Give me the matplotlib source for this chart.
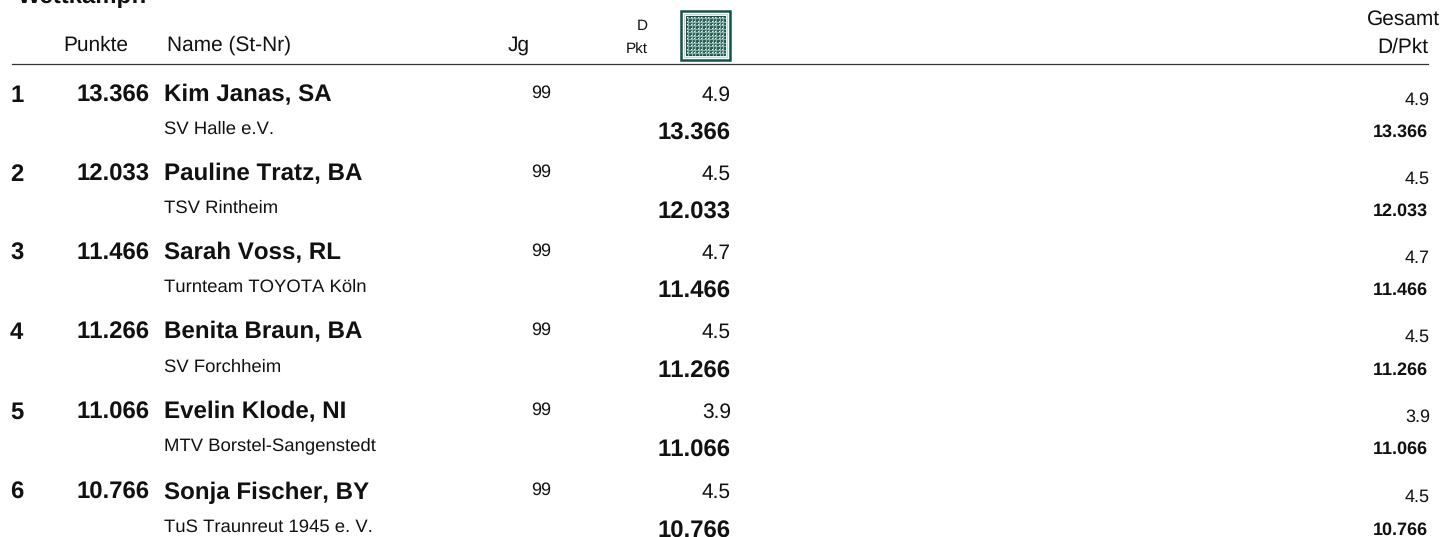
import matplotlib
matplotlib.use("Agg")
import matplotlib.pyplot as plt
from matplotlib.patches import Rectangle

plt.rcParams['font.family'] = ['Liberation Sans', 'DejaVu Sans']
plt.rcParams['text.kerning_factor'] = 6
plt.rcParams['text.hinting'] = 'none'

W = 1444
H = 537

# Daten
platz = ["1", "2", "3", "4", "5", "6"]
punkte = ["13.366", "12.033", "11.466", "11.266", "11.066", "10.766"]
namen = ["Kim Janas, SA", "Pauline Tratz, BA", "Sarah Voss, RL",
         "Benita Braun, BA", "Evelin Klode, NI", "Sonja Fischer, BY"]
vereine = ["SV Halle e.V.", "TSV Rintheim", "Turnteam TOYOTA Köln",
           "SV Forchheim", "MTV Borstel-Sangenstedt", "TuS Traunreut 1945 e. V."]
jahrgang = ["99", "99", "99", "99", "99", "99"]
d_wert = ["4.9", "4.5", "4.7", "4.5", "3.9", "4.5"]

zeile_y = [93, 172, 251, 330, 410, 490]
verein_y = [127, 206, 285, 365, 444, 525]
summe_y = [131, 210, 289, 369, 448, 529]

fig = plt.figure(figsize=(W / 100, H / 100), dpi=100)
ax = fig.add_axes([0, 0, 1, 1])
ax.set_xlim(0, W)
ax.set_ylim(H, 0)
ax.axis("off")

def t(x, y, s, size, ha="left", bold=False):
    ax.text(x, y, s, fontsize=size, ha=ha, va="center_baseline",
            fontweight="bold" if bold else "normal", color="#111111")

# Kopf (oben abgeschnitten)
t(18, -6, "Wettkampf:", 17.2, bold=True)

t(63, 43, "Punkte", 15)
t(167, 43, "Name (St-Nr)", 15)
t(508, 43, "Jg", 15)
t(648, 25, "D", 11, ha="right")
t(648, 48, "Pkt", 11, ha="right")
t(1440, 17, "Gesamt", 15, ha="right")
t(1428, 45, "D/Pkt", 15, ha="right")

ax.plot([12, 1428], [64, 64], color="#333333", lw=0.9)

# Symbol Geraet
ax.add_patch(Rectangle((681, 11), 49, 49, fc="white", ec="#14534a", lw=1.8))
ax.add_patch(Rectangle((684, 14), 43, 43, fc="white", ec="#c5d4d1", lw=0.8))
ax.add_patch(Rectangle((686, 16), 39, 39, fc="#1f5f54", ec="#14534a", lw=0.8))
raster = [k * 3.5 for k in range(11)]
for p in raster:
    ax.plot([688 + p, 688 + p], [16.5, 54.5], color="#8fb0a9", lw=0.8)
    ax.plot([686.5, 724.5], [18 + p, 18 + p], color="#8fb0a9", lw=0.8)
for p in raster:
    for q in raster:
        ax.add_patch(Rectangle((687.4 + p, 17.4 + q), 1.3, 1.3, fc="white", ec="none"))

for i in range(6):
    t(10, zeile_y[i], platz[i], 17.2, bold=True)
    t(150, zeile_y[i], punkte[i], 17.2, ha="right", bold=True)
    t(164, zeile_y[i], namen[i], 17.35, bold=True)
    t(551, zeile_y[i] - 2, jahrgang[i], 13, ha="right")
    t(731, zeile_y[i], d_wert[i], 15, ha="right")
    t(1430, zeile_y[i] + 5, d_wert[i], 13, ha="right")
    t(164, verein_y[i], vereine[i], 13.3)
    t(731, summe_y[i], punkte[i], 17.2, ha="right", bold=True)
    t(1428, summe_y[i] - 1, punkte[i], 13, ha="right", bold=True)

fig.savefig("out.png", dpi=100)
